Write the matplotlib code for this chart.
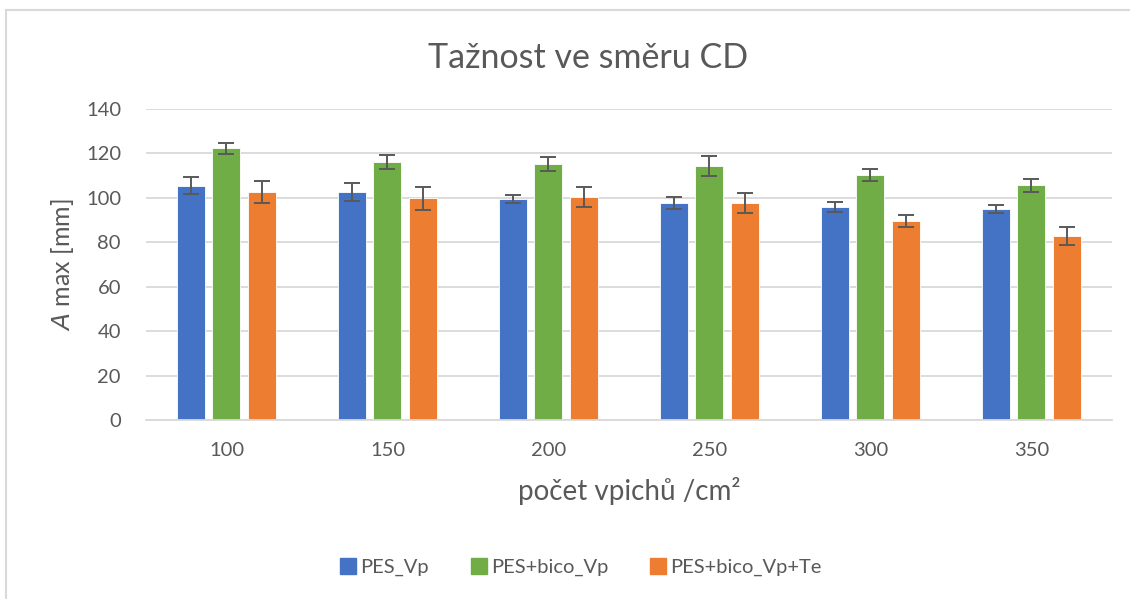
import numpy as np
import matplotlib
matplotlib.use("Agg")
import matplotlib.pyplot as plt
from matplotlib.lines import Line2D

plt.rcParams['font.family'] = ['Lato', 'DejaVu Sans']

categories = ['100', '150', '200', '250', '300', '350']
series = ['PES_Vp', 'PES+bico_Vp', 'PES+bico_Vp+Te']
pes_vp = [105.5, 102.7, 99.5, 97.6, 95.8, 94.9]
pes_vp_err = [3.7, 4.0, 1.8, 2.8, 2.2, 1.8]
bico_vp = [122.3, 116.2, 115.4, 114.4, 110.3, 105.7]
bico_vp_err = [2.4, 3.3, 3.2, 4.4, 2.7, 3.0]
bico_te = [102.7, 99.8, 100.5, 97.7, 89.6, 82.8]
bico_te_err = [4.8, 5.2, 4.4, 4.5, 2.7, 3.9]
colors = ['#4472C4', '#70AD47', '#ED7D31']

text_col = '#595959'
grid_col = '#d9d9d9'

fig = plt.figure(figsize=(11.3, 5.99), dpi=100)
ax = fig.add_axes([0.1292, 0.2988, 0.8548, 0.5192])

x = np.arange(len(categories))
width = 0.174
step = 0.222
values = [pes_vp, bico_vp, bico_te]
errors = [pes_vp_err, bico_vp_err, bico_te_err]
for i, (vals, errs, col) in enumerate(zip(values, errors, colors)):
    ax.bar(x + (i - 1) * step, vals, width, color=col, edgecolor='white',
           linewidth=0.6, zorder=2, label=series[i])
    ax.errorbar(x + (i - 1) * step, vals, yerr=errs, fmt='none',
                ecolor=text_col, elinewidth=1.4, capsize=6, capthick=1.4,
                zorder=3)

ax.set_xlim(-0.5, len(categories) - 0.5)
ax.set_ylim(0, 140)
ax.set_yticks(range(0, 141, 20))
ax.set_xticks(x)
ax.set_xticklabels(categories)
ax.grid(axis='y', color=grid_col, linewidth=1.3, zorder=0)
ax.set_axisbelow(True)
for side in ['top', 'right', 'left']:
    ax.spines[side].set_visible(False)
ax.spines['bottom'].set_color(grid_col)
ax.spines['bottom'].set_linewidth(1.3)
ax.tick_params(axis='both', length=0, labelsize=14.5, colors=text_col)
ax.tick_params(axis='x', pad=16)
ax.tick_params(axis='y', pad=18)

# y label placed in figure pixels left of the tick labels
fig.text(62 / 1130, 1 - 265 / 599, r'$\it{A}$' + ' max [mm]', rotation=90,
         ha='center', va='center', fontsize=18, color=text_col)
ax.set_xlabel('počet vpichů /cm²', fontsize=20, color=text_col,
              labelpad=13)
fig.text(0.52, 0.903, 'Tažnost ve směru CD', ha='center', va='center',
         fontsize=24.5, color=text_col)

handles = [Line2D([], [], marker='s', linestyle='none', markersize=11,
                  markerfacecolor=c, markeredgecolor=c) for c in colors]
fig.legend(handles, series, loc='center', bbox_to_anchor=(0.513, 0.053),
           ncol=3, frameon=False, fontsize=14.5, labelcolor=text_col,
           handletextpad=0.1, columnspacing=2.0, handlelength=1.0)

# thin frame around the chart area
fig.add_artist(Line2D([6 / 1130, 6 / 1130], [0, 1 - 10 / 599],
                      transform=fig.transFigure, color='#d9d9d9', lw=1.5))
fig.add_artist(Line2D([6 / 1130, 1], [1 - 10 / 599, 1 - 10 / 599],
                      transform=fig.transFigure, color='#d9d9d9', lw=1.5))

fig.savefig('out.png', dpi=100)
